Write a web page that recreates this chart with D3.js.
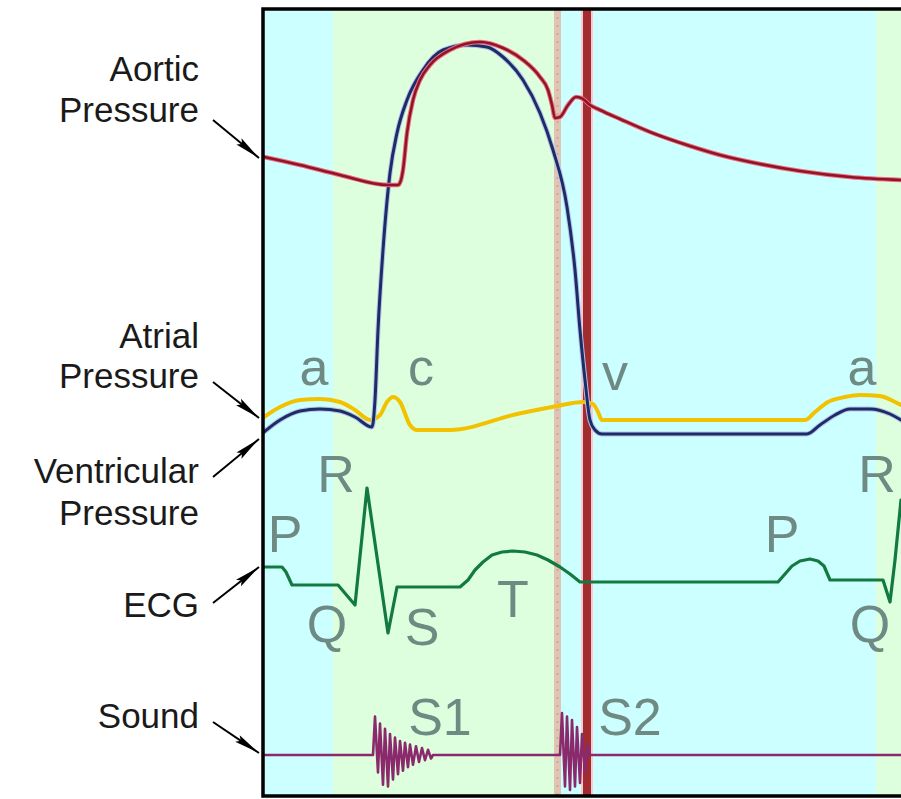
<!DOCTYPE html>
<html>
<head>
<meta charset="utf-8">
<script src="https://cdn.jsdelivr.net/npm/d3@7/dist/d3.min.js"></script>
<style>
  html, body { margin: 0; padding: 0; background: #ffffff; }
  svg { display: block; }
</style>
</head>
<body>
<svg id="chart" width="901" height="799"></svg>
<script>
// ---------------- DATA ----------------
// time axis in arbitrary units across one cardiac cycle (0 .. 637)
const phaseBands = [
  { start: 0,   end: 69,  phase: "diastole" },
  { start: 69,  end: 292, phase: "systole" },
  { start: 297, end: 612, phase: "diastole" },
  { start: 612, end: 637, phase: "systole" }
];
const aorticValveClose = 293.5;  // tan marker
const s2Marker = 323;            // red marker

// pressures (mmHg-like units)
const aorticPressure = [
  [0,84.9],[36,82.5],[76,79.5],[124,76.5],[134,76.5],[137,78],[139,81],[143,92.1],[149,102],
  [156,108],[166,112.5],[186,117],[201,118.8],[216,119.4],[239,117.6],[259,114],[276,108.9],
  [284,105],[288,100.5],[291,96.6],[296,96.9],[304,100.5],[312,102.9],[318,102.5],[326,100.5],
  [336,99],[356,96.3],[386,92.4],[426,88.2],[456,85.5],[496,82.8],[536,80.7],[586,78.9],[637,78]
];
const ventricularPressure = [
  [0,2.4],[16,6],[36,8.7],[56,9.3],[76,8.7],[91,6.9],[108,3.9],[111,12],[114,33],[119,57],
  [126,80.1],[133,92.1],[143,102],[159,111],[179,117],[203,118.5],[223,117.9],[239,114.9],
  [259,108],[276,98.1],[289,87],[303,69.9],[311,51],[316,33],[321,18],[326,6],[331,3],[338,1.8],
  [543,1.8],[556,4.5],[571,7.5],[586,9.3],[606,9.3],[626,7.8],[637,6]
];
const atrialPressure = [
  [0,6.9],[16,9.9],[36,12],[56,12.3],[76,11.4],[91,9],[106,6],[116,7.5],[123,11.4],[129,12.9],
  [136,11.4],[146,4.5],[153,3],[186,3],[253,7.8],[293,10.2],[319,11.4],[329,10.8],[334,8.4],
  [338,6],[541,6],[551,8.4],[564,11.4],[581,12.9],[596,13.5],[616,13.2],[631,11.4],[637,10.5]
];
// ECG (mV-like units)
const ecg = [
  [0,.18],[18,.18],[22,.13],[28,0],[74,0],[91,-.2],[103,.97],[124,-.48],[133,-.02],[196,-.02],
  [204,.05],[211,.15],[219,.23],[228,.30],[238,.33],[249,.34],[261,.33],[273,.30],[284,.25],
  [296,.18],[306,.11],[316,.03],[514,.03],[521,.11],[528,.19],[536,.24],[546,.26],[554,.24],
  [560,.19],[566,.05],[619,.05],[626,-.17],[631,.25],[637,.85]
];
// heart sound (relative amplitude)
const sound = [
  [0,0],[108,0],[109,0],[111,1.1],[114,-0.5],[116,0.9],[119,-0.85],[121,0.75],[124,-0.9],
  [126,0.6],[129,-0.7],[131,0.5],[134,-0.55],[136,0.4],[139,-0.45],[141,0.35],[144,-0.35],
  [146,0.3],[149,-0.28],[152,0.25],[155,-0.2],[158,0.2],[161,-0.15],[164,0.15],[167,-0.1],
  [169,0],[296,0],[298,1.2],[301,-0.9],[303,1.1],[306,-1.0],[308,1.0],[311,-0.9],[313,0.8],
  [316,-0.8],[318,0.6],[321,-0.5],[324,0.3],[326,0],[637,0]
];
// wave annotations: text, time, panel, value at baseline
const waveLabels = [
  { text: "a",  t: 50,  panel: "pressure", v: 16.5 },
  { text: "c",  t: 157, panel: "pressure", v: 16.5 },
  { text: "v",  t: 351, panel: "pressure", v: 15 },
  { text: "a",  t: 598, panel: "pressure", v: 16.5 },
  { text: "R",  t: 72,  panel: "ecg", v: 0.93 },
  { text: "R",  t: 613, panel: "ecg", v: 0.93 },
  { text: "P",  t: 21,  panel: "ecg", v: 0.33 },
  { text: "P",  t: 518, panel: "ecg", v: 0.33 },
  { text: "Q",  t: 63,  panel: "ecg", v: -0.57 },
  { text: "Q",  t: 606, panel: "ecg", v: -0.57 },
  { text: "S",  t: 158, panel: "ecg", v: -0.6 },
  { text: "T",  t: 249, panel: "ecg", v: -0.32 },
  { text: "S1", t: 176, panel: "sound", v: 0.571 },
  { text: "S2", t: 366, panel: "sound", v: 0.571 }
];
const sideLabels = [
  { lines: ["Aortic", "Pressure"], baseY: [81, 122], arrow: [[213,120],[259,158]] },
  { lines: ["Atrial", "Pressure"], baseY: [348, 388], arrow: [[213,382],[259,418]] },
  { lines: ["Ventricular", "Pressure"], baseY: [483, 525], arrow: [[213,477],[259,439]] },
  { lines: ["ECG"], baseY: [617], arrow: [[213,603],[259,567]] },
  { lines: ["Sound"], baseY: [728], arrow: [[213,722],[259,753]] }
];

// ---------------- LAYOUT ----------------
const svg = d3.select("#chart");
const frame = { left: 264, top: 9, right: 901, bottom: 796 };

const x = d3.scaleLinear().domain([0, 637]).range([frame.left, frame.right]);
const yP = d3.scaleLinear().domain([0, 120]).range([440, 40]);
const yE = d3.scaleLinear().domain([0, 1]).range([585, 485]);
const yS = d3.scaleLinear().domain([-1, 1]).range([790, 720]);
const panelY = { pressure: yP, ecg: yE, sound: yS };
const bandColor = d3.scaleOrdinal().domain(["diastole", "systole"]).range(["#ccffff", "#ddffdd"]);

// background bands
svg.append("g").selectAll("rect").data(phaseBands).join("rect")
  .attr("x", d => x(d.start)).attr("width", d => x(d.end) - x(d.start))
  .attr("y", frame.top).attr("height", frame.bottom - frame.top)
  .attr("fill", d => bandColor(d.phase));

// tan marker
svg.append("rect")
  .attr("x", x(aorticValveClose) - 3.5).attr("width", 7)
  .attr("y", frame.top).attr("height", frame.bottom - frame.top)
  .attr("fill", "#dfc3b3");
svg.append("line")
  .attr("x1", x(aorticValveClose)).attr("x2", x(aorticValveClose))
  .attr("y1", frame.top).attr("y2", frame.bottom)
  .attr("stroke", "#cfa898").attr("stroke-width", 2).attr("stroke-dasharray", "2,6");

// red marker
svg.append("rect")
  .attr("x", x(s2Marker) - 6).attr("width", 12)
  .attr("y", frame.top).attr("height", frame.bottom - frame.top)
  .attr("fill", "#ffc8cc");
svg.append("rect")
  .attr("x", x(s2Marker) - 4).attr("width", 8)
  .attr("y", frame.top).attr("height", frame.bottom - frame.top)
  .attr("fill", "#a02c30");

// curves
const lineSmooth = (ys) => d3.line().x(d => x(d[0])).y(d => ys(d[1])).curve(d3.curveMonotoneX);
const lineSharp = (ys) => d3.line().x(d => x(d[0])).y(d => ys(d[1])).curve(d3.curveLinear);

const g = svg.append("g").attr("fill", "none").attr("stroke-linejoin", "round").attr("stroke-linecap", "round");

// atrial (yellow)
g.append("path").attr("d", lineSmooth(yP)(atrialPressure))
  .attr("stroke", "#f2c200").attr("stroke-width", 4);
// ventricular (navy)
g.append("path").attr("d", lineSmooth(yP)(ventricularPressure))
  .attr("stroke", "#b8c4e8").attr("stroke-width", 5);
g.append("path").attr("d", lineSmooth(yP)(ventricularPressure))
  .attr("stroke", "#1c2c66").attr("stroke-width", 3);
// aortic (red)
g.append("path").attr("d", lineSmooth(yP)(aorticPressure))
  .attr("stroke", "#f07080").attr("stroke-width", 4.5);
g.append("path").attr("d", lineSmooth(yP)(aorticPressure))
  .attr("stroke", "#8e1428").attr("stroke-width", 2.5);
// ECG (green)
g.append("path").attr("d", lineSharp(yE)(ecg))
  .attr("stroke", "#127a3e").attr("stroke-width", 3.2);
// Sound (purple)
g.append("path").attr("d", lineSharp(yS)(sound))
  .attr("stroke", "#8a2a6c").attr("stroke-width", 2.6);

// wave labels
svg.append("g").selectAll("text").data(waveLabels).join("text")
  .attr("x", d => x(d.t)).attr("y", d => panelY[d.panel](d.v))
  .attr("text-anchor", "middle")
  .attr("font-family", "Liberation Sans, Arial, sans-serif")
  .attr("font-size", 52)
  .attr("fill", "#6f8a82")
  .text(d => d.text);

// frame
svg.append("path")
  .attr("d", `M${frame.right + 10},${frame.top} L${frame.left - 1},${frame.top} L${frame.left - 1},${frame.bottom} L${frame.right + 10},${frame.bottom}`)
  .attr("fill", "none").attr("stroke", "#000").attr("stroke-width", 3.5);

// side labels & arrows
const defs = svg.append("defs");
defs.append("marker").attr("id", "arrowhead")
  .attr("viewBox", "0 0 26 10").attr("refX", 26).attr("refY", 5)
  .attr("markerWidth", 26).attr("markerHeight", 10)
  .attr("markerUnits", "userSpaceOnUse").attr("orient", "auto")
  .append("path").attr("d", "M0,1 L26,5 L0,9 L4,5 Z").attr("fill", "#000");

const side = svg.append("g");
sideLabels.forEach(s => {
  s.lines.forEach((ln, i) => {
    side.append("text")
      .attr("x", 199).attr("y", s.baseY[i])
      .attr("text-anchor", "end")
      .attr("font-family", "Liberation Sans, Arial, sans-serif")
      .attr("font-size", 35)
      .attr("fill", "#1a1a1a")
      .text(ln);
  });
  side.append("line")
    .attr("x1", s.arrow[0][0]).attr("y1", s.arrow[0][1])
    .attr("x2", s.arrow[1][0]).attr("y2", s.arrow[1][1])
    .attr("stroke", "#000").attr("stroke-width", 2)
    .attr("marker-end", "url(#arrowhead)");
});
</script>
</body>
</html>
